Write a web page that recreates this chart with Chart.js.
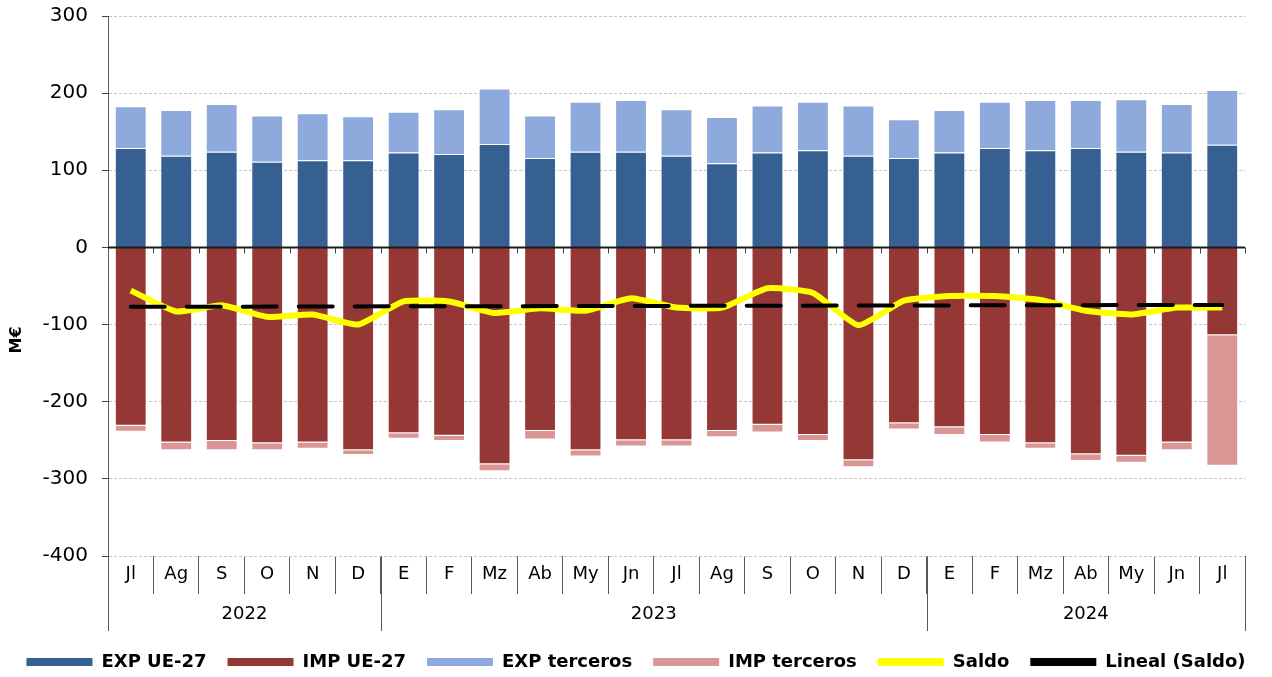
<!DOCTYPE html>
<html>
<head>
<meta charset="utf-8">
<script src="https://cdn.jsdelivr.net/npm/chart.js@4.4.1/dist/chart.umd.min.js"></script>
<style>
  html, body { margin: 0; padding: 0; background: #fff; }
</style>
</head>
<body>
<canvas id="myChart" width="1272" height="677"></canvas>
<script>
// Monate (Jl 2022 .. Jl 2024)
const months = ['Jl','Ag','S','O','N','D','E','F','Mz','Ab','My','Jn','Jl','Ag','S','O','N','D','E','F','Mz','Ab','My','Jn','Jl'];
const yearLabels = ['2022', '2023', '2024'];
const yearStarts = [0, 6, 18];

// Werte in M€
const expUE = [129,119,124,111,113,113,123,121,134,116,124,124,119,109,123,126,119,116,123,129,126,129,124,123,133];
const impUE = [-231,-253,-251,-254,-253,-263,-241,-244,-281,-238,-263,-250,-250,-238,-230,-243,-276,-228,-233,-243,-254,-268,-270,-253,-114];
const expTerceros = [54,59,62,60,61,57,53,58,72,55,65,67,60,60,61,63,65,50,55,60,65,62,68,63,71];
const impTerceros = [-8,-10,-12,-9,-8,-6,-7,-7,-9,-11,-8,-8,-8,-8,-10,-8,-9,-8,-10,-10,-7,-9,-9,-10,-169];
const saldo = [-56,-83,-75,-90,-87,-100,-70,-70,-85,-79,-82,-66,-78,-78,-53,-59,-101,-69,-63,-63,-68,-82,-87,-78,-78];
// Lineal (Saldo): Anfang und Ende der Trendlinie
const trendIndex = [0, 24];
const trendValue = [-77, -74.5];

const FONT = '"DejaVu Sans", Verdana, sans-serif';
Chart.defaults.font.family = FONT;
Chart.defaults.color = '#000';

// Zusatz: Nulllinie, Jahreszeile, Achsentitel
const axisExtras = {
    id: 'axisExtras',
    afterDatasetDraw(chart, args) {
        if (args.index !== 0) return;
        const {ctx, chartArea} = chart;
        const x = chart.scales.x, y = chart.scales.y;
        const y0 = y.getPixelForValue(0);
        ctx.save();
        ctx.strokeStyle = '#1a1a1a';
        ctx.lineWidth = 2;
        ctx.beginPath();
        ctx.moveTo(chartArea.left, y0);
        ctx.lineTo(chartArea.right, y0);
        ctx.stroke();
        ctx.lineWidth = 1;
        ctx.strokeStyle = '#404040';
        for (let i = 1; i <= months.length; i++) {
            const px = Math.round(x.getPixelForValue(i - 0.5)) + 0.5;
            ctx.beginPath();
            ctx.moveTo(px, y0);
            ctx.lineTo(px, y0 + 6);
            ctx.stroke();
        }
        ctx.restore();
    },
    afterDraw(chart) {
        const {ctx, chartArea} = chart;
        const x = chart.scales.x;
        const bottom = chartArea.bottom;
        ctx.save();
        ctx.strokeStyle = '#595959';
        ctx.lineWidth = 1;
        const bounds = yearStarts.concat([months.length]);
        bounds.forEach(b => {
            const px = Math.round(x.getPixelForValue(b - 0.5)) + 0.5;
            ctx.beginPath();
            ctx.moveTo(px, bottom);
            ctx.lineTo(px, bottom + 75);
            ctx.stroke();
        });
        ctx.fillStyle = '#000';
        ctx.font = '18px ' + FONT;
        ctx.textAlign = 'center';
        ctx.textBaseline = 'middle';
        yearLabels.forEach((lab, k) => {
            const a = x.getPixelForValue(bounds[k] - 0.5);
            const b = x.getPixelForValue(bounds[k + 1] - 0.5);
            ctx.fillText(lab, (a + b) / 2, bottom + 58);
        });
        // Achsentitel
        ctx.translate(17, 340);
        ctx.rotate(-Math.PI / 2);
        ctx.font = 'bold 16px ' + FONT;
        ctx.fillText('M€', 0, 0);
        ctx.restore();
    }
};

const barStyle = {
    borderColor: 'rgba(255,255,255,0.55)',
    borderWidth: 1,
    grouped: false,
    categoryPercentage: 1.0,
    barPercentage: 0.7,
    order: 1,
};

var ctx = document.getElementById('myChart').getContext('2d');
var myChart = new Chart(ctx, {
    type: 'bar',
    data: {
        labels: months,
        datasets: [
            { label: 'EXP UE-27', data: expUE, backgroundColor: '#366092', ...barStyle },
            { label: 'IMP UE-27', data: impUE, backgroundColor: '#953735', ...barStyle },
            { label: 'EXP terceros', data: expTerceros, backgroundColor: '#8eaadc', ...barStyle },
            { label: 'IMP terceros', data: impTerceros, backgroundColor: '#d99694', ...barStyle },
            {
                type: 'line',
                label: 'Saldo',
                data: saldo,
                borderColor: '#ffff00',
                backgroundColor: '#ffff00',
                borderWidth: 6,
                pointRadius: 0,
                tension: 0.15,
                stack: 'saldo',
                order: 0,
            },
            {
                type: 'line',
                label: 'Lineal (Saldo)',
                data: trendIndex.map((v, i) => ({x: v, y: trendValue[i]})),
                xAxisID: 'xt',
                borderColor: '#000',
                backgroundColor: '#000',
                borderWidth: 4,
                borderDash: [34, 22],
                borderCapStyle: 'round',
                pointRadius: 0,
                stack: 'trend',
                order: -1,
            },
        ]
    },
    options: {
        responsive: false,
        animation: false,
        layout: { padding: { top: 16, right: 0, left: 0, bottom: -4 } },
        plugins: {
            tooltip: { enabled: false },
            legend: {
                position: 'bottom',
                labels: {
                    boxWidth: 66,
                    boxHeight: 8,
                    padding: 21,
                    font: { size: 18, weight: 'bold' },
                    sort: (a, b) => a.datasetIndex - b.datasetIndex,
                    generateLabels(chart) {
                        const items = Chart.defaults.plugins.legend.labels.generateLabels(chart);
                        items.forEach(it => {
                            const ds = chart.data.datasets[it.datasetIndex];
                            it.fillStyle = ds.type === 'line' ? ds.borderColor : ds.backgroundColor;
                            it.lineWidth = 0;
                            it.lineDash = [];
                        });
                        return items;
                    }
                }
            }
        },
        scales: {
            x: {
                stacked: true,
                offset: true,
                grid: {
                    offset: true,
                    drawOnChartArea: false,
                    tickLength: 38,
                    tickColor: '#595959',
                },
                border: { display: false },
                ticks: {
                    autoSkip: false,
                    maxRotation: 0,
                    padding: -30,
                    font: { size: 18 },
                },
                afterFit(s) { s.height = 76; }
            },
            xt: {
                type: 'linear',
                axis: 'x',
                display: false,
                offset: false,
                min: -0.5,
                max: 24.5,
            },
            y: {
                stacked: true,
                min: -400,
                max: 300,
                ticks: {
                    stepSize: 100,
                    padding: 14,
                    font: { size: 20 },
                },
                grid: {
                    color: c => c.tick && c.tick.value === 0 ? 'rgba(0,0,0,0)' : '#c4c4c4',
                    tickColor: '#404040',
                    tickLength: 6,
                },
                border: { color: '#595959', width: 1, dash: [3, 2] },
                afterFit(s) {
                    s.width = 108;
                    s.paddingTop = 0;
                    s.paddingBottom = 0;
                }
            },
            yr: {
                type: 'linear',
                axis: 'y',
                position: 'right',
                display: true,
                ticks: { display: false },
                grid: { display: false, drawTicks: false },
                border: { display: false },
                afterFit(s) {
                    s.width = 27;
                    s.paddingTop = 0;
                    s.paddingBottom = 0;
                }
            }
        }
    },
    plugins: [axisExtras]
});
</script>
</body>
</html>
